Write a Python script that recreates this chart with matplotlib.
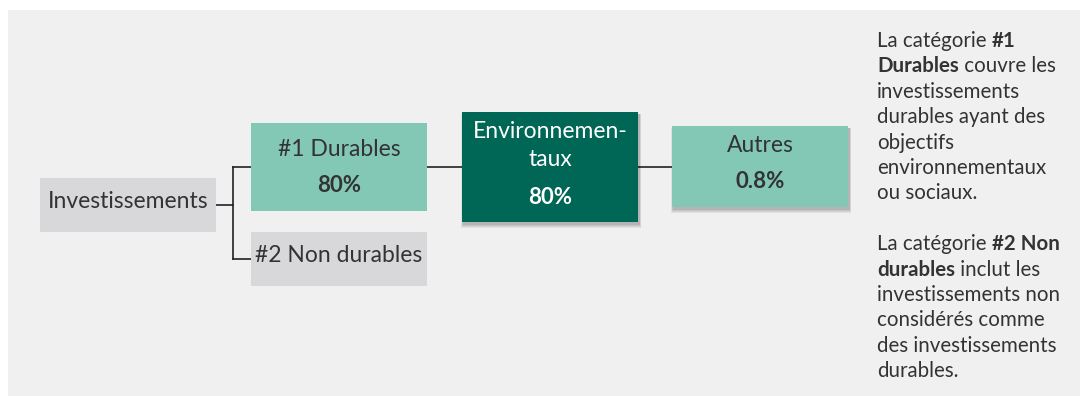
import matplotlib.pyplot as plt
from matplotlib.patches import Rectangle

# node labels / values
node_names = ['Investissements', '#1 Durables', '#2 Non durables', 'Environnemen-\ntaux', 'Autres']
node_values = ['', '80%', '', '80%', '0.8%']
node_colors = ['#d8d8da', '#82c8b4', '#d8d8da', '#006655', '#82c8b4']
text_colors = ['#333333', '#333333', '#333333', '#ffffff', '#333333']
has_shadow = [False, False, False, True, True]

# note on the right: list of lines, each a list of (text, bold)
note_lines = [
    [('La catégorie ', False), ('#1', True)],
    [('Durables', True), (' couvre les', False)],
    [('investissements', False)],
    [('durables ayant des', False)],
    [('objectifs', False)],
    [('environnementaux', False)],
    [('ou sociaux.', False)],
    [],
    [('La catégorie ', False), ('#2 Non', True)],
    [('durables', True), (' inclut les', False)],
    [('investissements non', False)],
    [('considérés comme', False)],
    [('des investissements', False)],
    [('durables.', False)],
]

FONT = 'Lato'

# box layout in pixels (x0, y0, x1, y1), y downwards
boxes = [
    (40, 178, 216, 232),
    (251, 123, 427, 211),
    (251, 232, 427, 286),
    (462, 112, 638, 222),
    (672, 126, 848, 207),
]

fig = plt.figure(figsize=(10.8, 3.96), dpi=100)
ax = fig.add_axes([0, 0, 1, 1])
ax.set_xlim(0, 1080)
ax.set_ylim(396, 0)
ax.axis('off')
fig.patch.set_facecolor('white')

# background panel
ax.add_patch(Rectangle((8, 10), 1072, 386, facecolor='#f0f0f0', edgecolor='none', zorder=0))

# connectors
lc = '#222222'
ax.plot([216, 233], [205, 205], color=lc, lw=1.2, zorder=1)
ax.plot([233, 233], [167, 259], color=lc, lw=1.2, zorder=1)
ax.plot([233, 251], [167, 167], color=lc, lw=1.2, zorder=1)
ax.plot([233, 251], [259, 259], color=lc, lw=1.2, zorder=1)
ax.plot([427, 462], [167, 167], color=lc, lw=1.2, zorder=1)
ax.plot([638, 672], [167, 167], color=lc, lw=1.2, zorder=1)

for i, (x0, y0, x1, y1) in enumerate(boxes):
    w = x1 - x0
    h = y1 - y0
    if has_shadow[i]:
        for k, a in enumerate([0.06, 0.06, 0.07, 0.08]):
            d = 4 - k
            ax.add_patch(Rectangle((x0 + 1 - d * 0.5, y0 + 2), w + d, h + d,
                                   facecolor='#000000', alpha=a, edgecolor='none', zorder=2))
    ax.add_patch(Rectangle((x0, y0), w, h, facecolor=node_colors[i], edgecolor='none', zorder=3))
    cx = (x0 + x1) / 2
    name = node_names[i]
    val = node_values[i]
    tc = text_colors[i]
    if val == '':
        ax.text(cx, (y0 + y1) / 2 - 3, name, ha='center', va='center', fontsize=16.5,
                family=FONT, color=tc, zorder=4)
    else:
        vy = y1 - 25
        ax.text(cx, vy, val, ha='center', va='center', fontsize=16,
                family=FONT, fontweight='bold', color=tc, zorder=4)
        parts = name.split('\n')
        for j, p in enumerate(parts):
            ly = vy - 37 - 28 * (len(parts) - 1 - j)
            ax.text(cx, ly, p, ha='center', va='center', fontsize=16.5,
                    family=FONT, color=tc, zorder=4)

# right-hand note, built piece by piece
fig.canvas.draw()
renderer = fig.canvas.get_renderer()
y = 47
for line in note_lines:
    x = 877
    for txt, bold in line:
        t = ax.text(x, y, txt, ha='left', va='baseline', fontsize=14.8,
                    fontweight='bold' if bold else 'normal', family=FONT, color='#333333', zorder=4)
        bb = t.get_window_extent(renderer=renderer)
        x += bb.width
    y += 25.4

fig.savefig('out.png', dpi=100, facecolor='white')
